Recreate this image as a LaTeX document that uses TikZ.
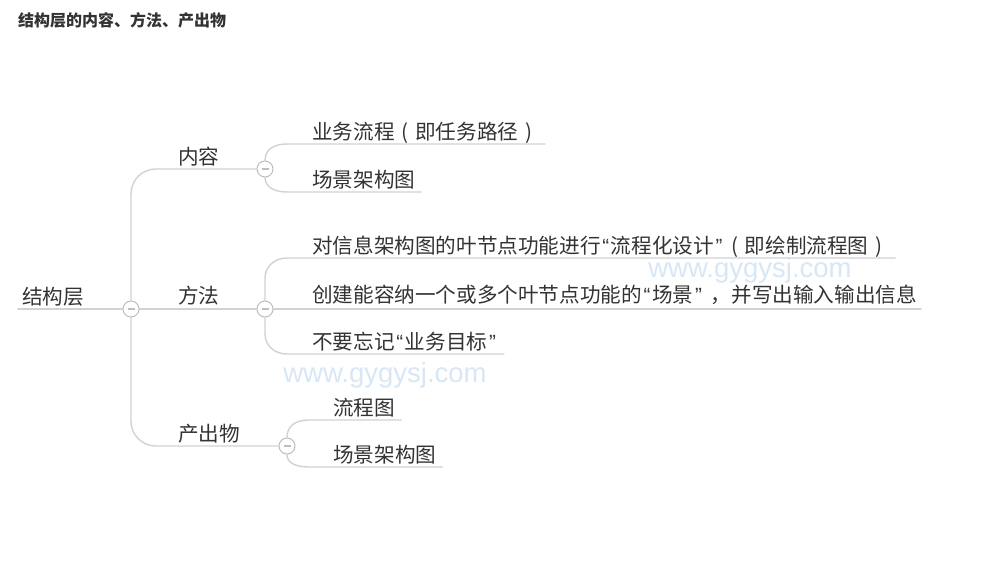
\documentclass[tikz,border=0pt]{standalone}
\usepackage{fontspec}
\newfontfamily\cjk{Noto Sans CJK SC}
\newfontfamily\wmfont{Liberation Sans}
\usetikzlibrary{calc}
\definecolor{txtc}{HTML}{333333}
\definecolor{lnc}{HTML}{D2D2D2}
\definecolor{tgc}{HTML}{BEBEBE}
\definecolor{wmc}{HTML}{D8E7F6}
\newcommand\fwlp{\makebox[1em][c]{(}}
\newcommand\fwrp{\makebox[1em][c]{)}}
\newcommand\nlq{\makebox[0.5em][c]{\wmfont “}}
\newcommand\nrq{\makebox[0.5em][c]{\wmfont ”}}
\tikzset{
  txt/.style={anchor=base west, inner sep=0pt, text=txtc, font=\cjk\fontsize{20.6}{24}\selectfont},
  ln/.style={draw=lnc, line width=1.4pt, line cap=round},
  tog/.style={circle, draw=tgc, fill=white, line width=1pt, minimum size=16pt, inner sep=0pt,
    path picture={\draw[tgc, line width=1.1pt] ([xshift=-3.5pt]path picture bounding box.center) -- ([xshift=3.5pt]path picture bounding box.center);}},
  wm/.style={inner sep=0pt, text=wmc, font=\wmfont\fontsize{27.5}{30}\selectfont}
}
\begin{document}
\begin{tikzpicture}[x=1pt,y=-1pt]
\useasboundingbox[fill=white] (0,0) rectangle (1000,560);
% watermarks
\node[wm] (wm1) at (750,270) {www.gygysj.com};
\node[wm] (wm2) at (385,375) {www.gygysj.com};
% title
\node[txt, font=\cjk\bfseries\fontsize{16}{19}\selectfont, text=black!80] (title) at (18,26) {结构层的内容、方法、产出物};
% text nodes
\node[txt] (root) at (22,304) {结构层};
\node[txt] (nr) at (178,164) {内容};
\node[txt] (fa) at (178,303) {方法};
\node[txt] (cc) at (178,441) {产出物};
\node[txt] (c1) at (312,139) {业务流程\fwlp 即任务路径\fwrp};
\node[txt] (c2) at (312,187) {场景架构图};
\node[txt] (m1) at (312,253) {对信息架构图的叶节点功能进行\nlq 流程化设计\nrq\fwlp 即绘制流程图\fwrp};
\node[txt] (m2) at (312,302) {创建能容纳一个或多个叶节点功能的\nlq 场景\nrq\hspace{0.35em}，并写出输入输出信息};
\node[txt] (m3) at (312,349) {不要忘记\nlq 业务目标\nrq};
\node[txt] (p1) at (333,415) {流程图};
\node[txt] (p2) at (333,462) {场景架构图};
% toggles
\node[tog] (k0) at (131,309) {};
\node[tog] (kc) at (265,169) {};
\node[tog] (km) at (265,309) {};
\node[tog] (kp) at (287,446) {};
% root connectors
\draw[ln] ($(root.base west)+(-4,5)$) -- (k0.west);
\draw[ln] (k0.north) -- (131,194) .. controls (131,180) and (142,169) .. (156,169) -- (kc.west);
\draw[ln] (k0.east) -- (km.west);
\draw[ln] (k0.south) -- (131,421) .. controls (131,435) and (142,446) .. (156,446) -- (kp.west);
% 内容 children
\draw[ln] (kc.north) .. controls (265,150) and (273,144) .. (287,144) -- ($(c1.base east)+(6,5)$);
\draw[ln] (kc.south) .. controls (265,186) and (273,192) .. (287,192) -- ($(c2.base east)+(6,5)$);
% 方法 children
\draw[ln] (km.north) -- (265,278) .. controls (265,267) and (274,258) .. (287,258) -- ($(m1.base east)+(6,5)$);
\draw[ln] (km.east) -- ($(m2.base east)+(4,7)$);
\draw[ln] (km.south) -- (265,334) .. controls (265,345) and (274,354) .. (287,354) -- ($(m3.base east)+(6,5)$);
% 产出物 children
\draw[ln] (kp.north) .. controls (287,427) and (294,420) .. (309,420) -- ($(p1.base east)+(6,5)$);
\draw[ln] (kp.south) .. controls (287,462) and (294,467) .. (309,467) -- ($(p2.base east)+(6,5)$);
\end{tikzpicture}
\end{document}
